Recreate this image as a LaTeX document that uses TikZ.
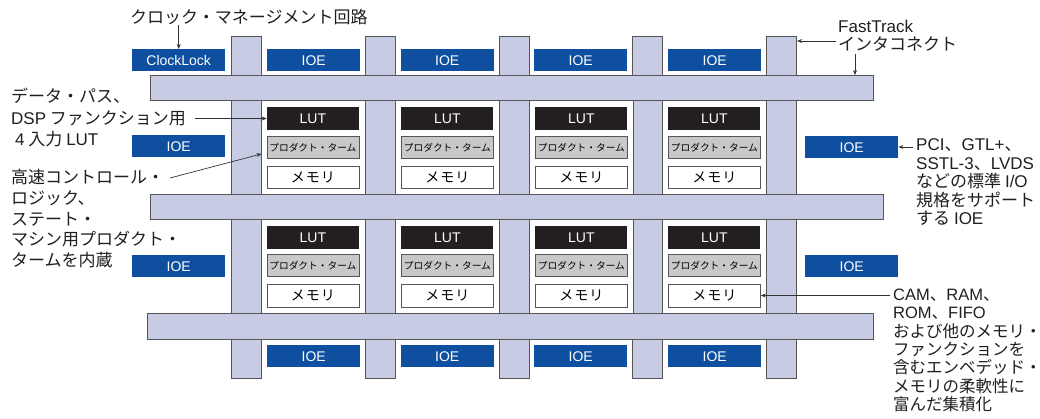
\documentclass[tikz,border=0pt]{standalone}
\usepackage{fontspec}
\setmainfont{Noto Sans CJK JP}
\newfontfamily\lat{Liberation Sans}
\usetikzlibrary{arrows.meta,calc}
\definecolor{ioeblue}{HTML}{0E4FA0}
\definecolor{barfill}{HTML}{C8CBE4}
\definecolor{barline}{HTML}{555555}
\definecolor{lutblack}{HTML}{231F20}
\definecolor{prodgray}{HTML}{C8C8C8}
\definecolor{linecol}{HTML}{333333}
\tikzset{
  bar/.style={draw=barline,fill=barfill,line width=1.1pt,inner sep=0pt,anchor=north west},
  cell/.style={draw=barline,fill=white,line width=0.8pt,inner sep=0pt,anchor=north west,minimum width=104pt,minimum height=94pt},
  lutbox/.style={fill=lutblack,text=white,inner sep=0pt,anchor=north,minimum width=92pt,minimum height=23pt,font=\lat\fontsize{14}{16}\selectfont},
  prodbox/.style={fill=prodgray,draw=barline,line width=0.8pt,inner sep=0pt,anchor=north,minimum width=92pt,minimum height=22pt,font=\fontsize{9.7}{11}\selectfont},
  membox/.style={fill=white,draw=barline,line width=0.8pt,inner sep=0pt,anchor=north,minimum width=92pt,minimum height=22pt,font=\fontsize{14}{15}\selectfont},
  ioebox/.style={fill=ioeblue,text=white,inner sep=0pt,anchor=north west,minimum width=93pt,minimum height=22pt,font=\lat\fontsize{14}{16}\selectfont},
  lbl/.style={inner sep=0pt,align=left,text=black!88},
  arr/.style={draw=linecol,line width=0.7pt,-{Stealth[length=5pt,width=4pt]}}
}
\begin{document}
\begin{tikzpicture}[x=1pt,y=-1pt]
\useasboundingbox (0,0) rectangle (1040,419);
% vertical FastTrack bars
\foreach \i/\x in {1/230.5,2/365,3/499,4/632,5/766}{
  \node[bar,minimum width=30pt,minimum height=342pt] (v\i) at (\x,36) {};
}
% cells
\foreach \i/\x in {1/260.5,2/395,3/529,4/662}{
  \node[cell] (c1\i) at (\x,100) {};
  \node[cell] (c2\i) at (\x,219) {};
  \node[lutbox] (l1\i) at ($(c1\i.north)+(0,7)$) {LUT};
  \node[prodbox] (p1\i) at ($(c1\i.north)+(0,36.5)$) {プロダクト・ターム};
  \node[membox] (m1\i) at ($(c1\i.north)+(0,66)$) {メ\hspace{1pt}モ\hspace{1pt}リ};
  \node[lutbox] (l2\i) at ($(c2\i.north)+(0,7)$) {LUT};
  \node[prodbox] (p2\i) at ($(c2\i.north)+(0,35.5)$) {プロダクト・ターム};
  \node[membox] (m2\i) at ($(c2\i.north)+(0,65.5)$) {メ\hspace{1pt}モ\hspace{1pt}リ};
}
% horizontal FastTrack bars
\node[bar,minimum width=723pt,minimum height=25pt] (h1) at (150,75) {};
\node[bar,minimum width=733pt,minimum height=25pt] (h2) at (150,194) {};
\node[bar,minimum width=726pt,minimum height=26pt] (h3) at (147,313) {};
% IOEs
\node[ioebox] (cl) at (132,49) {ClockLock};
\node[ioebox] (it1) at (267,49) {IOE};
\node[ioebox] (it2) at (400.5,49) {IOE};
\node[ioebox] (it3) at (534,49) {IOE};
\node[ioebox] (it4) at (668,49) {IOE};
\node[ioebox] (il1) at (132,135) {IOE};
\node[ioebox] (il2) at (132,255) {IOE};
\node[ioebox] (ir1) at (805,136) {IOE};
\node[ioebox] (ir2) at (805,255) {IOE};
\node[ioebox] (ib1) at (267,345) {IOE};
\node[ioebox] (ib2) at (400.5,345) {IOE};
\node[ioebox] (ib3) at (534,345) {IOE};
\node[ioebox] (ib4) at (668,345) {IOE};
% labels
\node[lbl,anchor=west,font=\fontsize{17}{20}\selectfont] (cmt) at (130,17) {クロック・マネージメント回路};
\node[lbl,anchor=north west,font=\fontsize{17}{18.5}\selectfont] (ft) at (838,19.5) {{\lat FastTrack}\\インタコネクト};
\node[lbl,anchor=north west,font=\fontsize{17}{21.5}\selectfont] (dp) at (11,88) {データ・パス、\\{\lat DSP} ファンクション用\\\hspace{4pt}{\lat 4} 入力 {\lat LUT}};
\node[lbl,anchor=north west,font=\fontsize{17}{20.8}\selectfont] (hs) at (11,169) {高速コントロール・\\ロジック、\\ステート・\\マシン用プロダクト・\\タームを内蔵};
\node[lbl,anchor=north west,font=\fontsize{17}{18.5}\selectfont] (pci) at (916,138.5) {{\lat PCI}、{\lat GTL+}、\\{\lat SSTL-3}、{\lat LVDS}\\などの標準 {\lat I/O}\\規格をサポート\\する {\lat IOE}};
\node[lbl,anchor=north west,font=\fontsize{16.5}{18.4}\selectfont] (cam) at (893,288.5) {{\lat CAM}、{\lat RAM}、\\{\lat ROM}、{\lat FIFO}\\および他のメモリ・\\ファンクションを\\含むエンベデッド・\\メモリの柔軟性に\\富んだ集積化};
% connectors
\draw[arr] (cmt.south -| cl.north) -- (cl.north);
\coordinate (ftA) at (836,41);
\draw[arr] (ftA) -- (ftA -| v5.east);
\coordinate (ftB) at (855,54);
\draw[arr] (ftB) -- (ftB |- h1.north);
\coordinate (dA) at (195,118.5);
\draw[arr] (dA) -- (dA -| l11.west);
\coordinate (hA) at (170,178);
\draw[arr] (hA) -- ($(p11.west)+(-5,6)$);
\coordinate (pA) at (913,147);
\draw[arr] (pA) -- (pA -| ir1.east);
\coordinate (mA) at (890,295.5);
\draw[arr] (mA) -- (mA -| m24.east);
\end{tikzpicture}
\end{document}
